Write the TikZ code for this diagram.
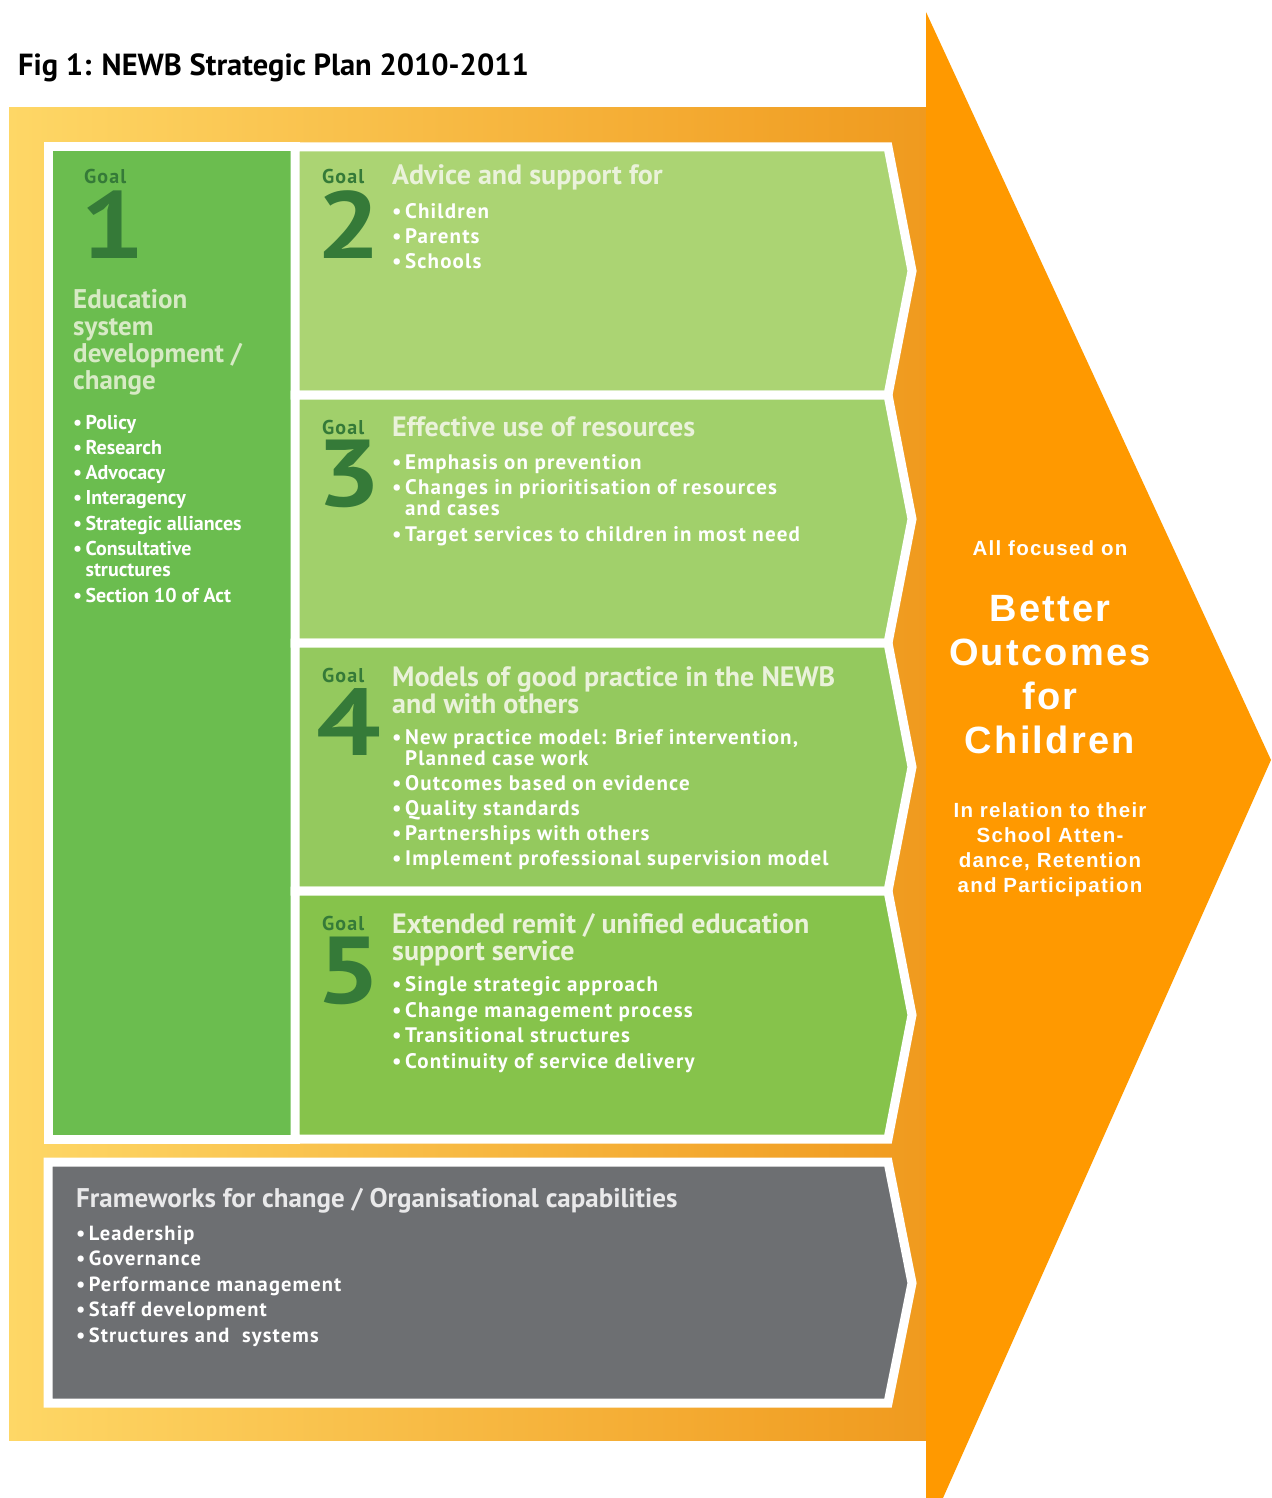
\documentclass[tikz,border=0pt]{standalone}
\usepackage{fontspec}
\setmainfont{PT Sans}
\newfontfamily\widefont[LetterSpace=5.5]{PT Sans}
\newfontfamily\numfont[FakeStretch=1.2]{PT Sans}
\newfontfamily\arrowfont[LetterSpace=6]{Liberation Sans}
\usetikzlibrary{positioning}

\definecolor{frameY}{HTML}{FED766}
\definecolor{frameO}{HTML}{F09A1E}
\definecolor{bigorange}{HTML}{FF9900}
\definecolor{goalA}{HTML}{6BBD4F}
\definecolor{goalB}{HTML}{ABD473}
\definecolor{goalC}{HTML}{A1D06B}
\definecolor{goalD}{HTML}{94C95E}
\definecolor{goalE}{HTML}{86C34B}
\definecolor{capgrey}{HTML}{6D6F72}
\definecolor{goaldark}{HTML}{357A38}
\definecolor{paletext}{HTML}{EAF2DA}

\newcommand{\bul}{\textbullet\,}
\newcommand{\ind}{\phantom{\textbullet\,}}

\begin{document}
\begin{tikzpicture}[x=1pt,y=-1pt,
    panel/.style={draw=white,line width=9pt,line join=miter},
    goalword/.style={anchor=base west,inner sep=0,text=goaldark,font=\widefont\bfseries\fontsize{20}{20}\selectfont},
    goalnum/.style={anchor=base west,inner sep=0,text=goaldark,font=\numfont\bfseries\fontsize{95}{95}\selectfont},
    heading/.style={anchor=base west,inner sep=0,align=left,text=paletext,font=\bfseries\fontsize{28}{27}\selectfont},
    bullets/.style={anchor=base west,inner sep=0,align=left,text=white,font=\widefont\bfseries\fontsize{21}{21}\selectfont},
    outcome/.style={anchor=base,inner sep=0,align=center,text=white}]
  \useasboundingbox (0,0) rectangle (1271,1498);

  % title
  \node[anchor=base west,inner sep=0,font=\bfseries\fontsize{30.5}{30.5}\selectfont] (title) at (18,76)
    {Fig 1: NEWB Strategic Plan 2010-2011};

  % frame and panels
  \shade[left color=frameY,middle color=frameY!45!frameO,right color=frameO] (9,108) rectangle (926,1440);
  \path[panel,fill=goalA] (48,147) rectangle (295,1139);
  \path[panel,fill=goalB] (295,147) -- (888,147) -- (912,271) -- (888,395) -- (295,395) -- cycle;
  \path[panel,fill=goalC] (295,395) -- (888,395) -- (912,519) -- (888,643) -- (295,643) -- cycle;
  \path[panel,fill=goalD] (295,643) -- (888,643) -- (912,767) -- (888,891) -- (295,891) -- cycle;
  \path[panel,fill=goalE] (295,891) -- (888,891) -- (912,1015) -- (888,1139) -- (295,1139) -- cycle;
  \path[panel,fill=capgrey] (48,1162) -- (888,1162) -- (912,1283) -- (888,1403) -- (48,1403) -- cycle;

  % big arrow
  \fill[bigorange] (926,12) -- (1271,760) -- (943,1498) -- (926,1498) -- cycle;

  % goal 1 (multi-line nodes sit on their last baseline)
  \node[goalword] (g1) at (84,183) {Goal};
  \node[goalnum] (n1) at (80,258) {1};
  \node[heading,text=paletext!85!goalA,font=\bfseries\fontsize{27}{27}\selectfont] (h1) at (73,389)
    {Education\\system\\development /\\change};
  \node[bullets,font=\bfseries\fontsize{20}{20.5}\selectfont] (b1) at (73,602)
    {\bul Policy\\[4.8pt] \bul Research\\[4.8pt] \bul Advocacy\\[4.8pt] \bul Interagency\\[4.8pt]
     \bul Strategic alliances\\[4.8pt] \bul Consultative\\ \ind structures\\[5.5pt] \bul Section 10 of Act};

  % goal 2
  \node[goalword] (g2) at (322,183) {Goal};
  \node[goalnum] (n2) at (316,258) {2};
  \node[heading] (h2) at (392,185) {Advice and support for};
  \node[bullets] (b2) at (392,268)
    {\bul Children\\[4pt] \bul Parents\\[4pt] \bul Schools};

  % goal 3
  \node[goalword] (g3) at (322,434) {Goal};
  \node[goalnum] (n3) at (316,506) {3};
  \node[heading] (h3) at (392,436) {Effective use of resources};
  \node[bullets] (b3) at (392,541)
    {\bul Emphasis on prevention\\[4.5pt] \bul Changes in prioritisation of resources\\ \ind and cases\\[4.5pt]
     \bul Target services to children in most need};

  % goal 4
  \node[goalword] (g4) at (322,682) {Goal};
  \node[goalnum] (n4) at (316,755) {4};
  \node[heading] (h4) at (392,713) {Models of good practice in the NEWB\\and with others};
  \node[bullets] (b4) at (392,865)
    {\bul New practice model: Brief intervention,\\ \ind Planned case work\\[4pt] \bul Outcomes based on evidence\\[4pt]
     \bul Quality standards\\[4pt] \bul Partnerships with others\\[4pt] \bul Implement professional supervision model};

  % goal 5
  \node[goalword] (g5) at (322,930) {Goal};
  \node[goalnum] (n5) at (316,1003) {5};
  \node[heading] (h5) at (392,960) {Extended remit / unified education\\support service};
  \node[bullets] (b5) at (392,1068)
    {\bul Single strategic approach\\[4.5pt] \bul Change management process\\[4.5pt]
     \bul Transitional structures\\[4.5pt] \bul Continuity of service delivery};

  % frameworks
  \node[heading,text=white!85!capgrey,font=\bfseries\fontsize{27}{27}\selectfont] (hf) at (76,1207)
    {Frameworks for change / Organisational capabilities};
  \node[bullets,font=\widefont\bfseries\fontsize{20.5}{21}\selectfont] (bf) at (76,1342)
    {\bul Leadership\\[4.5pt] \bul Governance\\[4.5pt] \bul Performance management\\[4.5pt]
     \bul Staff development\\[4.5pt] \bul Structures and \ systems};

  % arrow text
  \node[outcome,font=\arrowfont\bfseries\fontsize{20.5}{20.5}\selectfont] (focus) at (1050,555) {All focused on};
  \node[outcome,font=\arrowfont\bfseries\fontsize{38}{44}\selectfont] (better) at (1050,753)
    {Better\\Outcomes\\for\\Children};
  \node[outcome,font=\arrowfont\bfseries\fontsize{20.5}{24.7}\selectfont] (relation) at (1050,892)
    {In relation to their\\School Atten-\\dance, Retention\\and Participation};
\end{tikzpicture}
\end{document}
